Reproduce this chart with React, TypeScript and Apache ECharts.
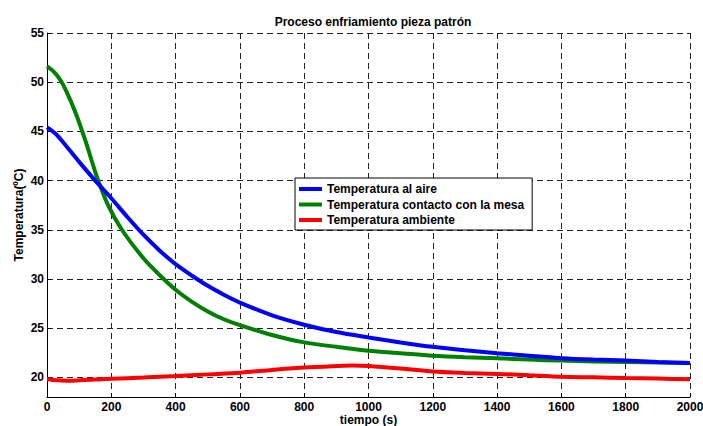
import React, { useEffect, useRef } from "react";
import * as echarts from "echarts";

const titleText = "Proceso enfriamiento pieza patrón";
const xName = "tiempo (s)";
const yName = "Temperatura(ºC)";
const yTicks = [20, 25, 30, 35, 40, 45, 50, 55];

const seriesNames = [
  "Temperatura al aire",
  "Temperatura contacto con la mesa",
  "Temperatura ambiente",
];
const seriesColors = ["#0000ff", "#008000", "#ff0000"];

const tAire = [0, 25, 50, 100, 150, 200, 250, 300, 350, 400, 450, 500, 550, 600, 700, 800, 900, 1000, 1100, 1200, 1300, 1400, 1500, 1600, 1700, 1800, 1900, 2000];
const vAire = [45.4, 44.8, 43.9, 41.9, 40.0, 38.2, 36.3, 34.5, 32.9, 31.5, 30.35, 29.3, 28.4, 27.6, 26.3, 25.35, 24.6, 24.05, 23.55, 23.1, 22.75, 22.45, 22.2, 21.95, 21.8, 21.7, 21.55, 21.45];

const tMesa = [0, 20, 40, 60, 90, 120, 155, 190, 233, 300, 350, 400, 450, 500, 550, 600, 700, 800, 900, 1000, 1100, 1200, 1300, 1400, 1500, 1600, 1700, 1800, 1900, 2000];
const vMesa = [51.6, 51.1, 50.3, 49.1, 46.8, 44.0, 40.4, 37.5, 35.0, 32.1, 30.4, 28.9, 27.7, 26.7, 25.9, 25.3, 24.3, 23.55, 23.1, 22.7, 22.45, 22.2, 22.05, 21.95, 21.8, 21.7, 21.6, 21.55, 21.5, 21.45];

const tAmb = [0, 30, 60, 100, 200, 300, 400, 500, 600, 700, 800, 900, 950, 1000, 1100, 1200, 1300, 1400, 1500, 1600, 1700, 1800, 1900, 2000];
const vAmb = [19.8, 19.7, 19.65, 19.7, 19.85, 19.98, 20.13, 20.3, 20.47, 20.75, 21.0, 21.15, 21.2, 21.15, 20.9, 20.6, 20.45, 20.35, 20.2, 20.05, 20.0, 19.93, 19.87, 19.8];

const zip = (t: number[], v: number[]) => t.map((x, i) => [x, v[i]]);

export default function App() {
  const ref = useRef<HTMLDivElement>(null);
  useEffect(() => {
    if (!ref.current) return;
    const chart = echarts.init(ref.current, null, { renderer: "svg" });
    const font = "Arial, 'Liberation Sans', sans-serif";
    const dataSets = [zip(tAire, vAire), zip(tMesa, vMesa), zip(tAmb, vAmb)];
    chart.setOption({
      animation: false,
      backgroundColor: "#fff",
      textStyle: { fontFamily: font },
      title: {
        text: titleText,
        left: 368,
        textAlign: "center",
        top: 11,
        textStyle: { fontSize: 12, fontWeight: "bold", color: "#000", fontFamily: font },
      },
      grid: { left: 47, top: 33, right: 13, bottom: 29, containLabel: false, outerBoundsMode: "none" },
      legend: {
        orient: "vertical",
        left: 295,
        top: 178,
        icon: "rect",
        itemWidth: 23,
        itemHeight: 4,
        itemGap: 1.5,
        padding: [4, 8, 3, 4],
        borderColor: "#000",
        borderWidth: 1,
        backgroundColor: "#fff",
        textStyle: { fontSize: 12, fontWeight: "bold", color: "#000", lineHeight: 14, fontFamily: font },
        data: seriesNames,
      },
      xAxis: {
        type: "value",
        min: 0,
        max: 2000,
        interval: 200,
        name: xName,
        nameLocation: "middle",
        nameGap: 17,
        nameMoveOverlap: false,
        nameTextStyle: { fontSize: 12, fontWeight: "bold", color: "#000", fontFamily: font },
        axisLine: { show: true, onZero: false, lineStyle: { color: "#000", width: 1 } },
        axisTick: { show: true, inside: true, length: 4, lineStyle: { color: "#000" } },
        axisLabel: {
          fontSize: 12,
          fontWeight: "bold",
          color: "#000",
          margin: 4,
          fontFamily: font,
          formatter: (v: number) => String(v),
        },
        splitLine: { show: true, lineStyle: { color: "#222", type: [6, 4], width: 1 } },
      },
      yAxis: {
        type: "value",
        min: 18,
        max: 55,
        name: yName,
        nameLocation: "middle",
        nameGap: 22,
        nameMoveOverlap: false,
        nameTextStyle: { fontSize: 12, fontWeight: "bold", color: "#000", fontFamily: font },
        axisLine: { show: true, onZero: false, lineStyle: { color: "#000", width: 1 } },
        axisTick: { show: true, inside: true, length: 4, customValues: yTicks, lineStyle: { color: "#000" } },
        axisLabel: { fontSize: 12, fontWeight: "bold", color: "#000", margin: 3, customValues: yTicks, fontFamily: font },
        splitLine: { show: true, lineStyle: { color: "#222", type: [6, 4], width: 1 } },
      },
      series: seriesNames.map((name, i) => ({
        name,
        type: "line",
        data: dataSets[i],
        showSymbol: false,
        smooth: 0.3,
        color: seriesColors[i],
        lineStyle: { width: 4, color: seriesColors[i] },
        z: 3 - i,
      })),
    });
    return () => chart.dispose();
  }, []);
  return <div ref={ref} style={{ position: "fixed", left: 0, top: 0, width: 703, height: 426 }} />;
}
